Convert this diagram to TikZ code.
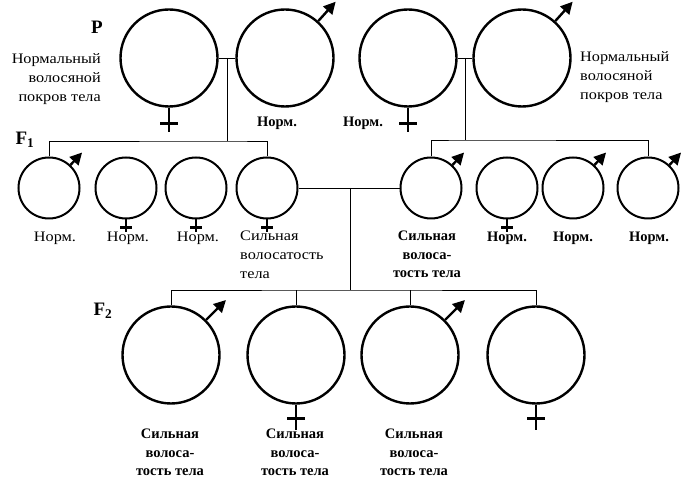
\documentclass[tikz,border=0pt]{standalone}
\usepackage{fontspec}
\setmainfont{Liberation Serif}
\newfontfamily\widefont[FakeStretch=1.12]{Liberation Serif}
\usetikzlibrary{arrows.meta, positioning}

\tikzset{
    big/.style={circle, draw, line width=2.4pt, minimum size=97pt, inner sep=0pt},
    small/.style={circle, draw, line width=2pt, minimum size=61pt, inner sep=0pt},
    link/.style={line width=0.9pt},
    mars/.style={line width=2.4pt, -{Triangle[length=12pt, width=12pt]}},
    venus/.style={line width=2.4pt},
    txt/.style={inner sep=0pt, font=\widefont\fontsize{14.5}{19}\selectfont},
    btxt/.style={inner sep=0pt, font=\bfseries\fontsize{14.5}{18.5}\selectfont},
    gen/.style={inner sep=0pt, font=\bfseries\fontsize{19}{19}\selectfont},
}

\begin{document}
\begin{tikzpicture}[x=1pt, y=1pt]
    \useasboundingbox (0,0) rectangle (683,481);

    \node[big] (f1) at (169,423) {};
    \node[big] (m1) at (285,423) {};
    \node[big] (f2) at (408,423) {};
    \node[big] (m2) at (522,423) {};

    \node[small] (c1) at (49,293) {};
    \node[small] (c2) at (126,293) {};
    \node[small] (c3) at (196,293) {};
    \node[small] (c4) at (267,293) {};
    \node[small] (c5) at (431,293) {};
    \node[small] (c6) at (507,293) {};
    \node[small] (c7) at (573,293) {};
    \node[small] (c8) at (648,293) {};

    \node[big] (d1) at (171,126) {};
    \node[big] (d2) at (296,126) {};
    \node[big] (d3) at (410,126) {};
    \node[big] (d4) at (536,126) {};

    \coordinate (j1) at (227.5,423);
    \coordinate (bar1) at (227.5,340);
    \coordinate (j2) at (465.5,423);
    \coordinate (bar2) at (465.5,341);
    \coordinate (j3) at (350,293);
    \coordinate (bar3) at (350,191);

    \draw[link] (f1.east) -- (m1.west)
          (j1) -- (bar1)
          (c1.north) |- (bar1) -| (c4.north);
    \draw[link] (f2.east) -- (m2.west)
          (j2) -- (bar2)
          (c5.north) |- (bar2) -| (c8.north);
    \draw[link] (c4.east) -- (c5.west)
          (j3) -- (bar3)
          (d1.north) |- (bar3) -| (d4.north)
          (d2.north) -- (d2.north |- bar3)
          (d3.north) -- (d3.north |- bar3);

    \draw[mars] (m1.48) -- ++(48:26);
    \draw[mars] (m2.48) -- ++(48:26);
    \draw[mars] (c1.47) -- ++(47:17);
    \draw[mars] (c5.47) -- ++(47:17);
    \draw[mars] (c7.47) -- ++(47:17);
    \draw[mars] (c8.47) -- ++(47:17);
    \draw[mars] (d1.45) -- ++(45:28);
    \draw[mars] (d3.45) -- ++(45:28);

    \draw[venus] (f1.south) -- ++(0,-24) ++(-9,8) -- ++(18,0);
    \draw[venus] (f2.south) -- ++(0,-24) ++(-9,8) -- ++(18,0);
    \draw[venus] (c2.south) -- ++(0,-13) ++(-6,5) -- ++(12,0);
    \draw[venus] (c3.south) -- ++(0,-13) ++(-6,5) -- ++(12,0);
    \draw[venus] (c4.south) -- ++(0,-13) ++(-6,5) -- ++(12,0);
    \draw[venus] (c6.south) -- ++(0,-13) ++(-6,5) -- ++(12,0);
    \draw[venus] (d2.south) -- ++(0,-25) ++(-9,11) -- ++(18,0);
    \draw[venus] (d4.south) -- ++(0,-25) ++(-9,11) -- ++(18,0);

    \node[gen] (lp) at (97,454) {P};
    \node[gen] (lf1) at (25,341) {F\textsubscript{1}};
    \node[gen] (lf2) at (103,170) {F\textsubscript{2}};

    \node[txt, align=right, anchor=east] (n1) at (101,402) {Нормальный\\волосяной\\покров тела};
    \node[txt, align=left, anchor=west] (n2) at (580,404) {Нормальный\\волосяной\\покров тела};
    \node[btxt] (n3) at (277,358) {Норм.};
    \node[btxt] (n4) at (363,358) {Норм.};

    \node[txt] (n5) at (55,243) {Норм.};
    \node[txt] (n6) at (128,243) {Норм.};
    \node[txt] (n7) at (198,243) {Норм.};
    \node[txt, align=left, anchor=north west] (n8) at (240,250) {Сильная\\волосатость\\тела};
    \node[btxt, align=center, anchor=north] (n9) at (427,250) {Сильная\\волоса-\\тость тела};
    \node[btxt] (n10) at (507,243) {Норм.};
    \node[btxt] (n11) at (573,243) {Норм.};
    \node[btxt] (n12) at (649,243) {Норм.};

    \node[btxt, align=center, anchor=north] (n13) at (170,52) {Сильная\\волоса-\\тость тела};
    \node[btxt, align=center, anchor=north] (n14) at (295,52) {Сильная\\волоса-\\тость тела};
    \node[btxt, align=center, anchor=north] (n15) at (414,52) {Сильная\\волоса-\\тость тела};
\end{tikzpicture}
\end{document}
